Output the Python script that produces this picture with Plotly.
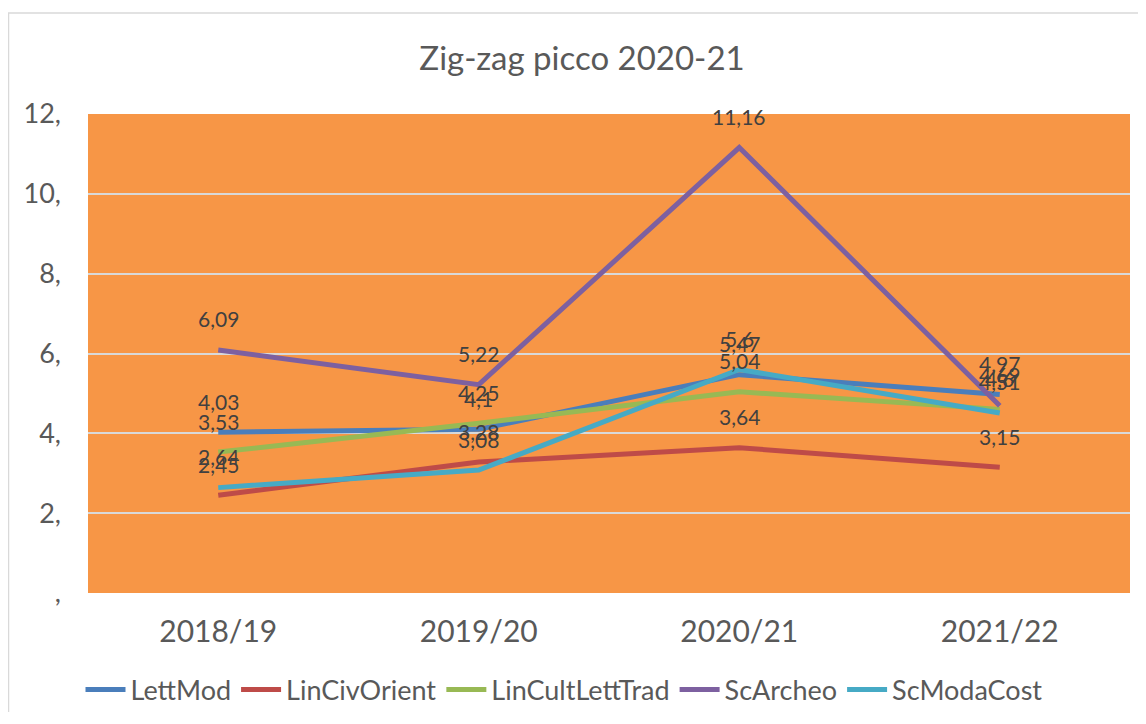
import plotly.graph_objects as go

categories = ["2018/19", "2019/20", "2020/21", "2021/22"]
series_names = ["LettMod", "LinCivOrient", "LinCultLettTrad", "ScArcheo", "ScModaCost"]
lettmod = [4.03, 4.1, 5.47, 4.97]
lincivorient = [2.45, 3.28, 3.64, 3.15]
lincultletttrad = [3.53, 4.25, 5.04, 4.6]
scarcheo = [6.09, 5.22, 11.16, 4.69]
scmodacost = [2.64, 3.08, 5.6, 4.51]
y_tickvals = [0, 2, 4, 6, 8, 10, 12]
y_ticktext = [",", "2,", "4,", "6,", "8,", "10,", "12,"]

series_values = [lettmod, lincivorient, lincultletttrad, scarcheo, scmodacost]
colors = ["#4A7EBB", "#BE4B48", "#98B954", "#7D60A0", "#46AAC5"]

FONT = "Lato"
W, H = 1130, 704
L, T, PW, PH = 80, 106, 1042, 479
fig = go.Figure()
annotations = []
for name, vals, col in zip(series_names, series_values, colors):
    fig.add_trace(go.Scatter(x=categories, y=vals, mode="lines", name=name,
                             line=dict(color=col, width=5)))
    for c, v in zip(categories, vals):
        annotations.append(dict(x=c, y=v, xref="x", yref="y", text=str(v).replace(".", ","),
                                showarrow=False, yshift=31,
                                font=dict(family=FONT, size=21, color="#404040")))

fig.update_layout(
    width=W, height=H,
    margin=dict(l=L, r=W - L - PW, t=T, b=H - T - PH, autoexpand=False),
    paper_bgcolor="white", plot_bgcolor="#F79646",
    title=dict(text="Zig-zag picco 2020-21", x=574 / W, xanchor="center", y=1 - 50 / H,
               yanchor="middle", font=dict(family=FONT, size=33, color="#595959")),
    font=dict(family=FONT, color="#595959"),
    annotations=annotations,
    legend=dict(orientation="h", xref="container", yref="container", x=556 / W, xanchor="center",
                y=1 - 682 / H, yanchor="middle", font=dict(family=FONT, size=27, color="#595959"),
                itemwidth=40, bgcolor="rgba(0,0,0,0)"),
    showlegend=True,
    shapes=[
        dict(type="line", xref="paper", yref="paper", x0=(0.5 - L) / PW, x1=(0.5 - L) / PW,
             y0=(T + PH - 5) / PH, y1=(T + PH - H - 5) / PH, line=dict(color="#D9D9D9", width=1.5)),
        dict(type="line", xref="paper", yref="paper", x0=(0 - L) / PW, x1=(W - L) / PW,
             y0=(T + PH - 5) / PH, y1=(T + PH - 5) / PH, line=dict(color="#D9D9D9", width=1.5)),
    ],
)
fig.update_xaxes(range=[-0.5, 3.5], showgrid=False, zeroline=False, showline=False, ticks="",
                 tickfont=dict(family=FONT, size=30, color="#595959"), ticklabelstandoff=18)
fig.update_yaxes(range=[0, 12], tickvals=y_tickvals, ticktext=y_ticktext, showgrid=True,
                 gridcolor="#D9D9D9", gridwidth=2, zeroline=False, showline=False, ticks="",
                 tickfont=dict(family=FONT, size=27, color="#595959"), ticklabelstandoff=26)

fig.write_html("out.html")
